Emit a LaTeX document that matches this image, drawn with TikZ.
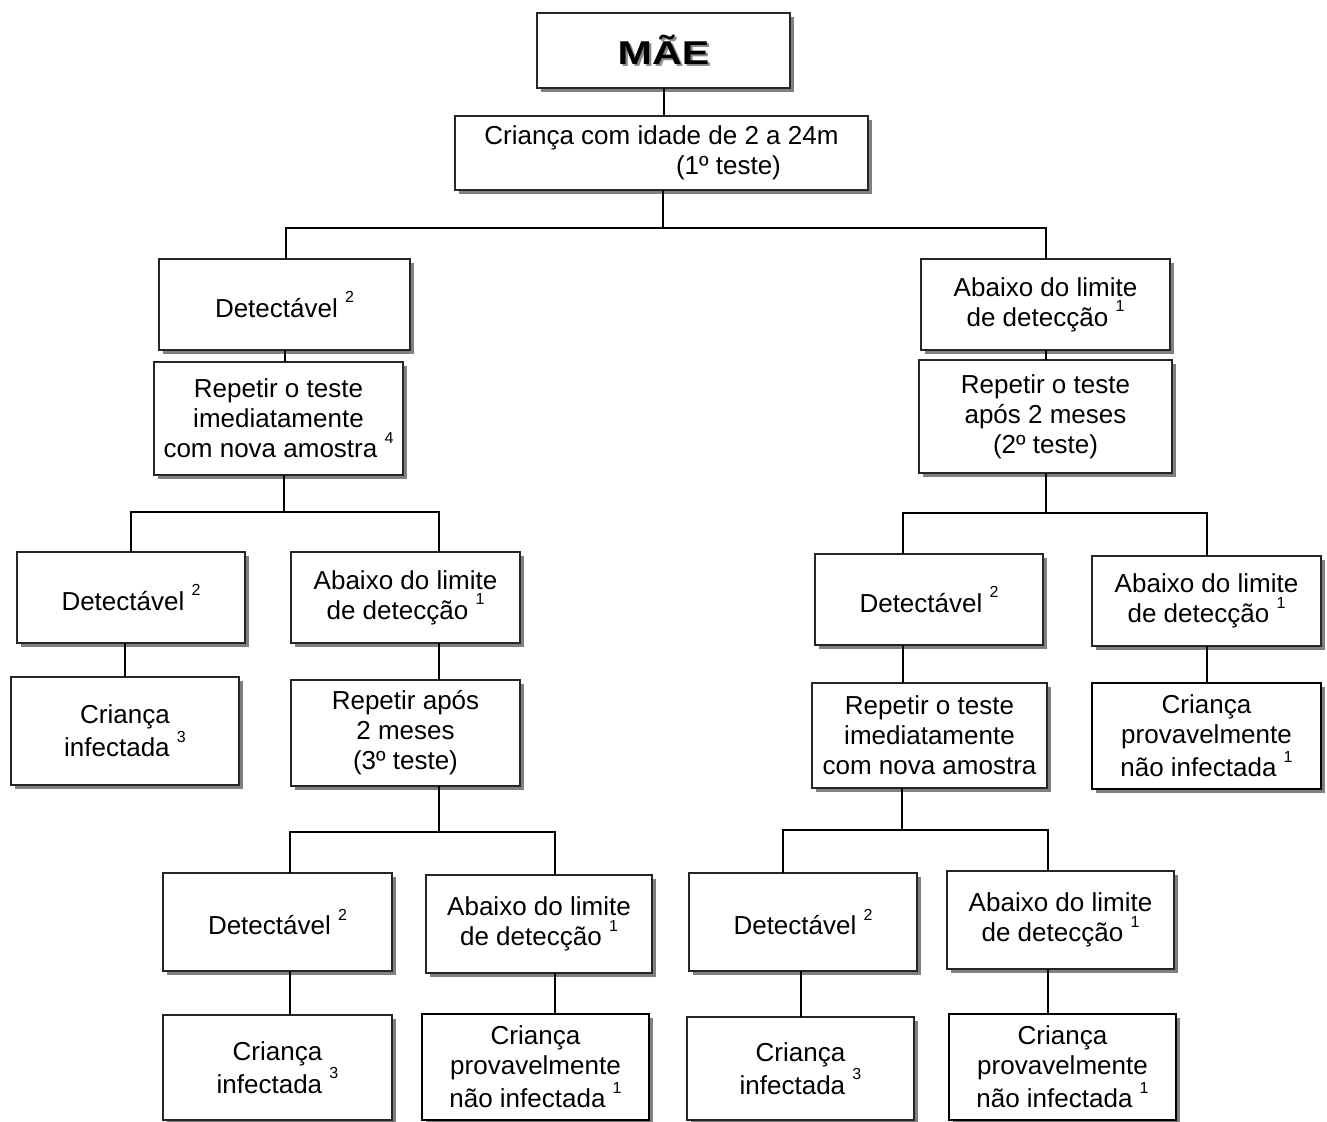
\documentclass[tikz,border=0pt]{standalone}
\usepackage{fontspec}
\setmainfont{Liberation Sans}
\usepackage{graphicx}
\usepackage{xcolor}
\usepackage{tikz}
\usetikzlibrary{shadows}

\newcommand{\nota}[1]{\ \raisebox{0.55em}{\fontsize{8}{8}\selectfont #1}}
\newcommand{\titulo}[1]{\scalebox{1.25}[1]{\fontsize{16.5}{18}\selectfont\bfseries
  \makebox[0pt][l]{\hspace{0.9pt}\raisebox{-0.9pt}{\color{black!45}#1}}#1}}

\tikzset{
  box/.style 2 args={draw=black!85,line width=0.9pt,fill=white,align=center,
    inner sep=0pt,outer sep=0pt,font=\fontsize{13}{15}\selectfont,
    minimum width=#1*0.5pt,minimum height=#2*0.5pt,
    drop shadow={shadow xshift=2.2pt,shadow yshift=-2.2pt,fill=black!50,opacity=1}},
  fim/.style={draw=black,line width=1.1pt},
  conn/.style={line width=1pt,black}
}

\begin{document}
\begin{tikzpicture}[x=0.5pt,y=-0.5pt]
 	\useasboundingbox (0,0) rectangle (1327,1122);
 	\node[box={253}{75}] (mae) at (663.5,50.5) {\titulo{MÃE}};
 	\node[box={413}{74}] (crianca) at (661.5,153) {Criança com idade de 2 a 24m\\\hspace*{67pt}(1º teste)};
 	\node[box={251}{91}] (detL) at (284.5,304.5) {Detectável\nota{2}};
 	\node[box={249}{91}] (abR) at (1045.5,304.5) {Abaixo do limite\\de detecção\nota{1}};
 	\node[box={249}{113}] (repL) at (278.5,418.5) {Repetir o teste\\imediatamente\\com nova amostra\nota{4}};
 	\node[box={253}{113}] (repR) at (1045.5,416.5) {Repetir o teste\\após 2 meses\\(2º teste)};
 	% ramo esquerdo
 	\node[box={228}{91}] (detL2) at (131,597.5) {Detectável\nota{2}};
 	\node[box={229}{91}] (abL2) at (405.5,597.5) {Abaixo do limite\\de detecção\nota{1}};
 	\node[box={228}{108}] (infL) at (125,731) {Criança\\infectada\nota{3}};
 	\node[box={229}{106}] (rep3) at (405.5,733) {Repetir após\\2 meses\\(3º teste)};
 	\node[box={229}{98}] (detL3) at (277.5,922) {Detectável\nota{2}};
 	\node[box={226}{98}] (abL3) at (539,924) {Abaixo do limite\\de detecção\nota{1}};
 	\node[box={229}{105}] (infL3) at (277.5,1067.5) {Criança\\infectada\nota{3}};
 	\node[box={227}{106},fim] (provL3) at (535.5,1067) {Criança\\provavelmente\\não infectada\nota{1}};
 	% ramo direito
 	\node[box={228}{91}] (detR2) at (929,599.5) {Detectável\nota{2}};
 	\node[box={229}{90}] (abR2) at (1206.5,601) {Abaixo do limite\\de detecção\nota{1}};
 	\node[box={235}{105}] (repR2) at (929.5,735.5) {Repetir o teste\\imediatamente\\com nova amostra};
 	\node[box={229}{106},fim] (provR) at (1206.5,736) {Criança\\provavelmente\\não infectada\nota{1}};
 	\node[box={228}{98}] (detR3) at (803,922) {Detectável\nota{2}};
 	\node[box={227}{98}] (abR3) at (1060.5,920) {Abaixo do limite\\de detecção\nota{1}};
 	\node[box={227}{103}] (infR3) at (800.5,1068.5) {Criança\\infectada\nota{3}};
 	\node[box={227}{106},fim] (provR3) at (1062.5,1067) {Criança\\provavelmente\\não infectada\nota{1}};
 	% ligacoes
 	\coordinate (j1) at (663,228); \coordinate (j1l) at (286,228); \coordinate (j1r) at (1046,228);
 	\coordinate (j2) at (284,512); \coordinate (j2l) at (131,512); \coordinate (j2r) at (439,512);
 	\coordinate (j3) at (439,832); \coordinate (j3l) at (290,832); \coordinate (j3r) at (555,832);
 	\coordinate (j4) at (1046,513); \coordinate (j4l) at (903,513); \coordinate (j4r) at (1207,513);
 	\coordinate (j5) at (902,830); \coordinate (j5l) at (783,830); \coordinate (j5r) at (1048,830);
 	\draw[conn] (mae.south) -- (mae.south |- crianca.north);
 	\foreach \s/\p/\a/\b in {j1/crianca/detL/abR, j2/repL/detL2/abL2, j3/rep3/detL3/abL3, j4/repR/detR2/abR2, j5/repR2/detR3/abR3}
 	\draw[conn] (\s |- \p.south) -- (\s) (\s l |- \a.north) -- (\s l) -- (\s r) -- (\s r |- \b.north);
 	\draw[conn] (detL.south) -- (detL.south |- repL.north);
 	\draw[conn] (abR.south) -- (abR.south |- repR.north);
 	\draw[conn] (infL.north |- detL2.south) -- (infL.north);
 	\draw[conn] (j2r |- abL2.south) -- (j2r |- rep3.north);
 	\draw[conn] (j3l |- detL3.south) -- (j3l |- infL3.north);
 	\draw[conn] (j3r |- abL3.south) -- (j3r |- provL3.north);
 	\draw[conn] (j4l |- detR2.south) -- (j4l |- repR2.north);
 	\draw[conn] (j4r |- abR2.south) -- (j4r |- provR.north);
 	\draw[conn] (infR3.north |- detR3.south) -- (infR3.north);
 	\draw[conn] (j5r |- abR3.south) -- (j5r |- provR3.north);
\end{tikzpicture}
\end{document}
